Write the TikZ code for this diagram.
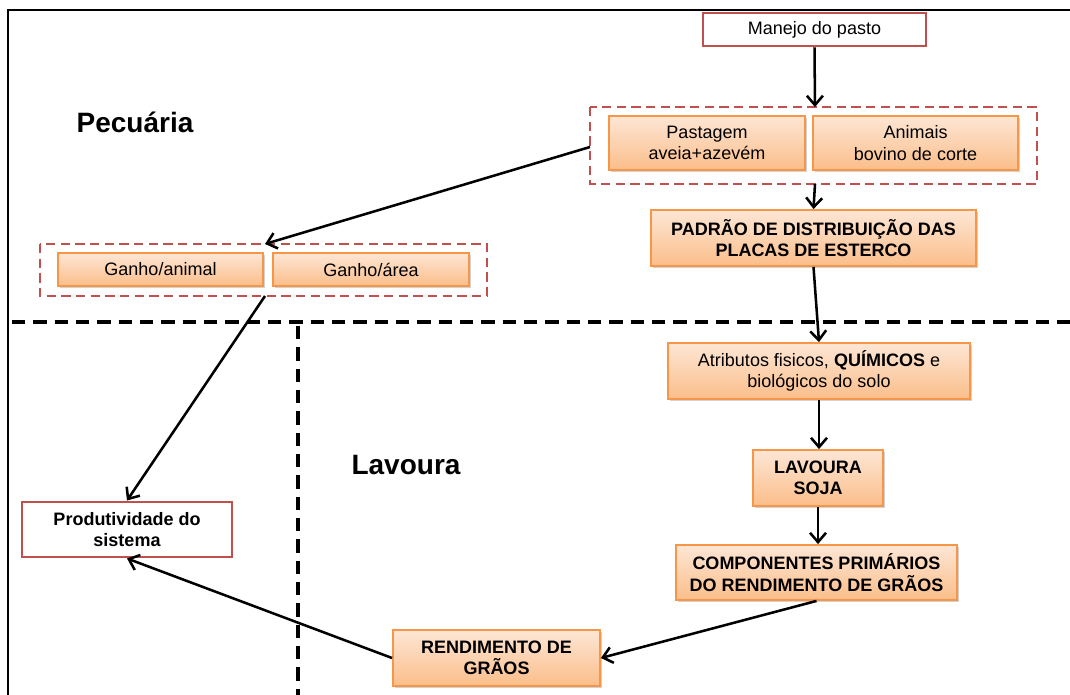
\documentclass[tikz,border=0pt]{standalone}
\usepackage{fontspec}
\setmainfont{Liberation Sans}
\usetikzlibrary{arrows.meta,shadows}
\definecolor{redb}{HTML}{C0504D}
\definecolor{orb}{HTML}{F79646}
\definecolor{ortop}{HTML}{FDE6D5}
\definecolor{orbot}{HTML}{FBBE8A}
\tikzset{
  obox/.style={draw=orb, line width=1.4pt, top color=ortop, bottom color=orbot,
    drop shadow={shadow xshift=1.5pt, shadow yshift=-1.5pt, opacity=0.35},
    align=center, font=\fontsize{13.5}{16}\selectfont, inner sep=0pt},
  bx/.style={font=\fontsize{13.5}{16}\selectfont\bfseries},
  rbox/.style={draw=redb, line width=2.2pt, fill=white, align=center,
    font=\fontsize{13.5}{16}\selectfont, inner sep=0pt},
  grp/.style={draw=redb, line width=2pt, dash pattern=on 7pt off 4pt},
  arr/.style={-{Straight Barb[length=7pt,width=12pt,line width=1.9pt]}, line width=1.9pt, black},
  sep/.style={line width=2.5pt, dash pattern=on 10pt off 6pt},
  lbl/.style={font=\fontsize{21}{24}\selectfont\bfseries, inner sep=0pt}
}
\begin{document}
\begin{tikzpicture}[x=0.75pt,y=-0.75pt]
\useasboundingbox (0,0) rectangle (1070,695);
\fill[white] (0,0) rectangle (1070,695);
% frame
\draw[line width=2.2pt] (8,695) -- (8,10) -- (1070,10);
% separators
\draw[sep] (12,322) -- (1070,322);
\draw[sep] (298,326) -- (298,695);
% labels
\node[lbl] (pec) at (135,122) {Pecuária};
\node[lbl] (lav) at (406,465) {Lavoura};
% top
\node[rbox, minimum width=223*0.75pt, minimum height=33*0.75pt] (man) at (814.5,29.5) {Manejo do pasto};
\node[obox, minimum width=196*0.75pt, minimum height=54*0.75pt] (past) at (707,143) {Pastagem\\aveia+azevém};
\node[obox, minimum width=205*0.75pt, minimum height=54*0.75pt] (anim) at (915.5,143) {Animais\\bovino de corte};
\draw[grp] (590,107) rectangle (1037,184);
\coordinate (g1t) at (815,107);
\coordinate (g1b) at (815,184);
\coordinate (g1l) at (590,147);
\node[obox, bx, minimum width=325*0.75pt, minimum height=56*0.75pt] (pad) at (813.5,238) {PADRÃO DE DISTRIBUIÇÃO DAS\\PLACAS DE ESTERCO};
% ganho
\node[obox, minimum width=205*0.75pt, minimum height=33*0.75pt] (gan) at (160.5,269.5) {Ganho/animal};
\node[obox, minimum width=196*0.75pt, minimum height=33*0.75pt] (gar) at (371,269.5) {Ganho/área};
\draw[grp] (40,244) rectangle (487,296);
\coordinate (g2t) at (265,244);
\coordinate (g2b) at (265,296);
% lavoura chain
\node[obox, minimum width=302*0.75pt, minimum height=56*0.75pt] (atr) at (819,371) {Atributos fisicos, \textbf{QUÍMICOS} e\\biológicos do solo};
\node[obox, bx, minimum width=130*0.75pt, minimum height=56*0.75pt] (soja) at (818,478) {LAVOURA\\SOJA};
\node[obox, bx, minimum width=281*0.75pt, minimum height=55*0.75pt] (comp) at (816.5,572.5) {COMPONENTES PRIMÁRIOS\\DO RENDIMENTO DE GRÃOS};
\node[obox, bx, minimum width=207*0.75pt, minimum height=56*0.75pt] (rend) at (496.5,658) {RENDIMENTO DE\\GRÃOS};
\node[rbox, bx, minimum width=210*0.75pt, minimum height=55*0.75pt] (prod) at (127,529.5) {Produtividade do\\sistema};
% arrows
\draw[arr] (man.south) -- (g1t);
\draw[arr] (g1b) -- (pad.north);
\draw[arr] (g1l) -- (g2t);
\draw[arr] (pad.south) -- (atr.north);
\draw[arr] (atr.south) -- (soja.north -| atr.south);
\draw[arr] (soja.south) -- (comp.north -| soja.south);
\draw[arr] (comp.south) -- (rend.east);
\draw[arr] (rend.west) -- (prod.south);
\draw[arr] (g2b) -- (prod.north);
\end{tikzpicture}
\end{document}
